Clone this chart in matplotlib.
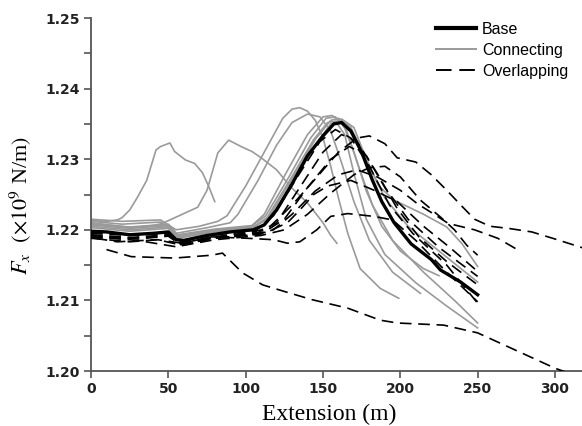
import matplotlib
matplotlib.use("Agg")
import matplotlib.pyplot as plt
from matplotlib.lines import Line2D
from matplotlib.ticker import MultipleLocator

# ---------------- data ----------------
base_x = [0, 10, 25, 40, 50, 55, 60, 75, 90, 105, 112, 120, 130, 140, 150, 157,
          162, 168, 175, 182, 188, 196, 207, 220, 226, 239, 250]
base_y = [1.2198, 1.2197, 1.2193, 1.2195, 1.2197, 1.2186, 1.2185, 1.2192, 1.2197,
          1.2200, 1.2207, 1.2228, 1.2265, 1.2305, 1.2333, 1.2350, 1.2352, 1.2340,
          1.2310, 1.2270, 1.2240, 1.2210, 1.2180, 1.2158, 1.2143, 1.2126, 1.2108]

connecting_x = [
    [0, 10, 17, 20, 25, 30, 36, 42, 45, 51, 54, 61, 67, 72, 76, 80],
    [0, 15, 25, 40, 46, 55, 61, 69, 75, 82, 89, 97, 104, 110, 120, 129, 140, 150, 155, 159],
    [0, 20, 45, 55, 70, 82, 88, 100, 112, 124, 130, 135, 140, 145, 150, 155, 160, 166, 174, 187, 199],
    [0, 20, 45, 55, 75, 90, 95, 108, 120, 130, 140, 148, 155, 162, 170, 180, 195, 213],
    [0, 25, 50, 56, 80, 105, 115, 130, 145, 155, 162, 170, 178, 186, 196, 215, 230, 240, 250],
    [0, 25, 50, 56, 80, 105, 115, 130, 145, 155, 160, 168, 178, 190, 205, 225, 250],
    [0, 25, 50, 56, 80, 103, 113, 128, 142, 152, 158, 165, 173, 182, 195, 215, 235, 250],
    [0, 25, 50, 56, 80, 104, 114, 129, 144, 153, 158, 164, 170, 178, 190, 210, 230, 250],
    [0, 25, 50, 56, 80, 104, 112, 126, 140, 150, 156, 163, 170, 178, 188, 200, 215, 225],
]
connecting_y = [
    [1.2213, 1.2212, 1.2214, 1.2217, 1.2228, 1.2246, 1.2270, 1.2313, 1.2318, 1.2323,
     1.2311, 1.2299, 1.2294, 1.2281, 1.2262, 1.2240],
    [1.2210, 1.2206, 1.2203, 1.2206, 1.2209, 1.2218, 1.2224, 1.2232, 1.2256, 1.2309,
     1.2327, 1.2318, 1.2311, 1.2302, 1.2285, 1.2261, 1.2238, 1.2210, 1.2192, 1.2181],
    [1.2215, 1.2212, 1.2214, 1.2200, 1.2205, 1.2212, 1.2220, 1.2262, 1.2310, 1.2358,
     1.2371, 1.2373, 1.2368, 1.2355, 1.2330, 1.2290, 1.2245, 1.2195, 1.2145, 1.2117, 1.2103],
    [1.2212, 1.2208, 1.2211, 1.2195, 1.2203, 1.2210, 1.2222, 1.2270, 1.2320, 1.2352,
     1.2364, 1.2360, 1.2340, 1.2295, 1.2240, 1.2185, 1.2140, 1.2110],
    [1.2208, 1.2203, 1.2207, 1.2192, 1.2200, 1.2205, 1.2215, 1.2265, 1.2320, 1.2350,
     1.2357, 1.2345, 1.2300, 1.2262, 1.2242, 1.2222, 1.2204, 1.2180, 1.2148],
    [1.2205, 1.2200, 1.2204, 1.2190, 1.2198, 1.2203, 1.2218, 1.2272, 1.2328, 1.2355,
     1.2358, 1.2345, 1.2300, 1.2245, 1.2205, 1.2170, 1.2126],
    [1.2207, 1.2202, 1.2206, 1.2190, 1.2199, 1.2204, 1.2220, 1.2275, 1.2330, 1.2358,
     1.2360, 1.2342, 1.2290, 1.2235, 1.2185, 1.2140, 1.2100, 1.2068],
    [1.2203, 1.2198, 1.2202, 1.2188, 1.2197, 1.2202, 1.2218, 1.2272, 1.2328, 1.2352,
     1.2354, 1.2335, 1.2280, 1.2215, 1.2165, 1.2125, 1.2092, 1.2061],
    [1.2209, 1.2204, 1.2208, 1.2193, 1.2201, 1.2206, 1.2222, 1.2280, 1.2335, 1.2360,
     1.2362, 1.2350, 1.2310, 1.2255, 1.2205, 1.2170, 1.2145, 1.2135],
]

overlapping_x = [
    [10, 26, 54, 78, 85, 98, 111, 126, 143, 166, 187, 198, 228, 250, 274, 300, 310],
    [0, 25, 50, 57, 80, 105, 115, 130, 145, 160, 172, 180, 190, 198, 210, 220, 230,
     240, 248, 258, 270, 285, 300, 320],
    [0, 25, 50, 57, 80, 108, 118, 130, 145, 160, 172, 185, 200, 211, 224, 231, 248, 263, 278],
    [0, 30, 55, 80, 110, 125, 140, 155, 170, 180, 190, 200, 213, 226, 235, 243, 250],
    [0, 25, 43, 59, 78, 100, 114, 127, 135, 144, 153, 168, 183, 198, 215, 232, 250],
    [3, 17, 43, 59, 78, 101, 118, 127, 135, 146, 155, 166, 183, 195, 210, 230, 250],
    [0, 25, 50, 57, 80, 108, 120, 135, 150, 162, 172, 185, 198, 212, 230, 250],
    [0, 30, 50, 58, 80, 110, 125, 140, 155, 167, 178, 190, 205, 225, 250],
    [0, 25, 50, 56, 80, 106, 118, 132, 148, 158, 168, 180, 193, 208, 230, 250],
]
overlapping_y = [
    [1.2172, 1.2162, 1.2160, 1.2164, 1.2167, 1.2139, 1.2122, 1.2112, 1.2101, 1.2089,
     1.2072, 1.2068, 1.2065, 1.2054, 1.2030, 1.2004, 1.1996],
    [1.2195, 1.2192, 1.2195, 1.2182, 1.2190, 1.2197, 1.2203, 1.2235, 1.2272, 1.2310,
     1.2330, 1.2333, 1.2322, 1.2302, 1.2296, 1.2278, 1.2256, 1.2233, 1.2215, 1.2205,
     1.2202, 1.2197, 1.2187, 1.2173],
    [1.2192, 1.2188, 1.2192, 1.2180, 1.2188, 1.2195, 1.2200, 1.2222, 1.2255, 1.2278,
     1.2285, 1.2275, 1.2256, 1.2237, 1.2219, 1.2209, 1.2200, 1.2188, 1.2169],
    [1.2190, 1.2185, 1.2176, 1.2186, 1.2192, 1.2200, 1.2222, 1.2252, 1.2278, 1.2288,
     1.2290, 1.2275, 1.2242, 1.2218, 1.2200, 1.2178, 1.2164],
    [1.2188, 1.2183, 1.2186, 1.2178, 1.2188, 1.2192, 1.2197, 1.2210, 1.2228, 1.2250,
     1.2262, 1.2270, 1.2256, 1.2240, 1.2205, 1.2175, 1.2141],
    [1.2188, 1.2183, 1.2186, 1.2181, 1.2190, 1.2188, 1.2186, 1.2181, 1.2183, 1.2200,
     1.2219, 1.2223, 1.2219, 1.2214, 1.2185, 1.2140, 1.2098],
    [1.2193, 1.2189, 1.2193, 1.2181, 1.2190, 1.2196, 1.2210, 1.2260, 1.2310, 1.2335,
     1.2325, 1.2280, 1.2230, 1.2190, 1.2155, 1.2122],
    [1.2190, 1.2187, 1.2191, 1.2179, 1.2188, 1.2194, 1.2215, 1.2260, 1.2300, 1.2318,
     1.2305, 1.2260, 1.2215, 1.2175, 1.2134],
    [1.2197, 1.2193, 1.2196, 1.2184, 1.2193, 1.2198, 1.2220, 1.2270, 1.2325, 1.2342,
     1.2330, 1.2290, 1.2235, 1.2195, 1.2150, 1.2096],
]

legend_labels = ["Base", "Connecting", "Overlapping"]
x_ticks = [0, 50, 100, 150, 200, 250, 300]
y_ticks = [1.20, 1.21, 1.22, 1.23, 1.24, 1.25]

# ---------------- figure ----------------
plt.rcParams["mathtext.fontset"] = "stix"
fig = plt.figure(figsize=(5.82, 4.26), dpi=100)
ax = fig.add_axes([0.1564, 0.1291, 0.845, 0.8286])

gray = "#9a9a9a"
for xs, ys in zip(connecting_x, connecting_y):
    ax.plot(xs, ys, color=gray, lw=1.2, solid_joinstyle="round", zorder=2)
for xs, ys in zip(overlapping_x, overlapping_y):
    ax.plot(xs, ys, color="black", lw=1.2, dashes=(7, 4), zorder=3)
ax.plot(base_x, base_y, color="black", lw=2.4, solid_joinstyle="round", zorder=4)

ax.set_xlim(0, 318)
ax.set_ylim(1.20, 1.25)
ax.set_xticks(x_ticks)
ax.set_yticks(y_ticks)
ax.yaxis.set_minor_locator(MultipleLocator(0.005))
ax.set_yticklabels([f"{v:.2f}" for v in y_ticks])

for s in ["top", "right"]:
    ax.spines[s].set_visible(False)
for s in ["left", "bottom"]:
    ax.spines[s].set_color("#555555")
    ax.spines[s].set_linewidth(1.3)

ax.tick_params(axis="both", which="major", length=5, width=1.2, color="#555555",
               labelsize=10, labelcolor="#222222", pad=3)
ax.tick_params(axis="y", which="minor", length=5, width=1.2, color="#555555")
for lab in ax.get_xticklabels() + ax.get_yticklabels():
    lab.set_fontweight("bold")
    lab.set_family("DejaVu Sans")

ax.set_xlabel("Extension (m)", fontsize=17, family="Liberation Serif")
ax.xaxis.set_label_coords(0.485, -0.092, transform=ax.transAxes)
ax.xaxis.label.set_va("top")
ax.set_ylabel(r"$F_x$  $(\times 10^9$ N/m$)$", fontsize=16, family="Liberation Serif")
ax.yaxis.set_label_coords(-0.117, 0.47, transform=ax.transAxes)

handles = [
    Line2D([], [], color="black", lw=3.0),
    Line2D([], [], color=gray, lw=1.4),
    Line2D([], [], color="black", lw=1.4, dashes=(8, 4)),
]
leg = ax.legend(handles, legend_labels, loc="upper right", bbox_to_anchor=(0.99, 1.017),
                frameon=False, prop={"family": "Liberation Sans", "size": 11.5},
                handlelength=2.5, handletextpad=0.4, labelspacing=0.38,
                borderaxespad=0.2)

fig.savefig("out.png", dpi=100)
